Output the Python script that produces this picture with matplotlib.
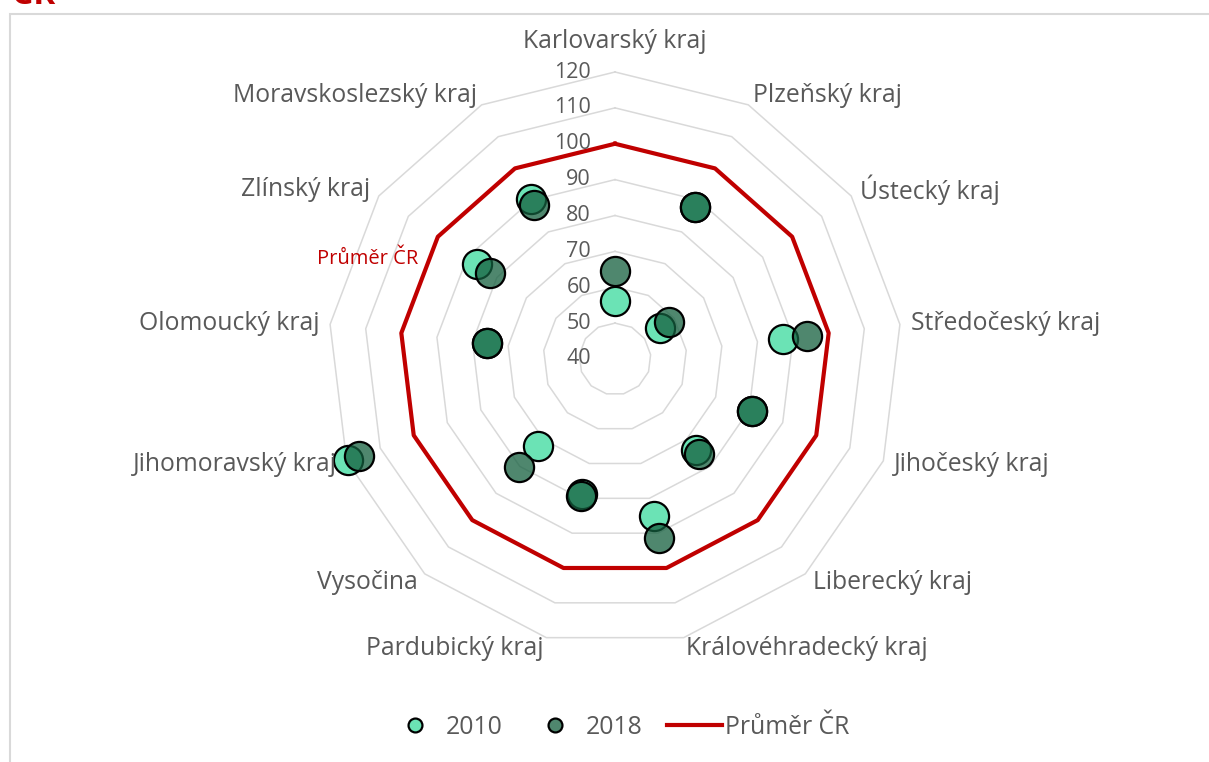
import numpy as np
import matplotlib
matplotlib.use("Agg")
import matplotlib.pyplot as plt
from matplotlib.lines import Line2D
from matplotlib.patches import Rectangle

plt.rcParams['font.family'] = ['Open Sans', 'DejaVu Sans']

categories = ["Karlovarský kraj", "Plzeňský kraj", "Ústecký kraj", "Středočeský kraj",
              "Jihočeský kraj", "Liberecký kraj", "Královéhradecký kraj", "Pardubický kraj",
              "Vysočina", "Jihomoravský kraj", "Olomoucký kraj", "Zlínský kraj",
              "Moravskoslezský kraj"]
values_2010 = [56.2, 88.0, 55.2, 87.3, 80.9, 74.0, 85.2, 78.8, 72.4, 119.5, 75.9, 86.7, 90.5]
values_2018 = [64.5, 88.0, 58.2, 93.8, 80.9, 75.5, 91.5, 79.4, 80.2, 116.4, 75.9, 82.2, 88.6]
average_cr = [100] * 13
ring_levels = [50, 60, 70, 80, 90, 100, 110, 120]
tick_labels = [40, 50, 60, 70, 80, 90, 100, 110, 120]

W, H = 1209, 762
fig = plt.figure(figsize=(W / 100, H / 100), dpi=100)

# chart frame
fig.patches.append(Rectangle((10 / W, -0.05), 1.1, (H - 14) / H + 0.05, transform=fig.transFigure,
                             fill=False, edgecolor='#D9D9D9', linewidth=1.5))
fig.text(12 / W, (H - 4) / H, "ČR", color='#C00000', fontsize=24, fontweight='bold',
         va='baseline', ha='left')

cx, cy, R = 615, 359, 287
ax = fig.add_axes([(cx - R) / W, (H - cy - R) / H, 2 * R / W, 2 * R / H], projection='polar')
ax.set_theta_zero_location('N')
ax.set_theta_direction(-1)
ax.set_ylim(40, 120)
ax.set_xticks([])
ax.set_yticks([])
ax.grid(False)
ax.spines['polar'].set_visible(False)
ax.set_facecolor('none')

n = len(categories)
theta = np.arange(n) * 2 * np.pi / n
theta_c = np.append(theta, theta[0])

for lv in ring_levels:
    ax.plot(theta_c, [lv] * (n + 1), color='#D9D9D9', lw=1.1, zorder=1, clip_on=False)

ax.plot(theta_c, average_cr + [average_cr[0]], color='#C00000', lw=3, zorder=2, clip_on=False)

c2010 = '#6BE3B5'
c2018 = (20 / 255, 95 / 255, 62 / 255, 0.75)
ax.plot(theta, values_2010, linestyle='none', marker='o', markersize=21, markerfacecolor=c2010,
        markeredgecolor='black', markeredgewidth=1.6, zorder=3, clip_on=False)
ax.plot(theta, values_2018, linestyle='none', marker='o', markersize=21, markerfacecolor=c2018,
        markeredgecolor='black', markeredgewidth=1.6, zorder=4, clip_on=False)

gray = '#595959'
fs = 17.8
for t in tick_labels:
    ax.annotate(str(t), xy=(0, t), xytext=(-24, 0), textcoords='offset pixels',
                ha='right', va='center', fontsize=15.5, color=gray)

for th, lab in zip(theta, categories):
    s, c = np.sin(th), np.cos(th)
    if abs(s) < 0.01:
        dx, dy, ha = 0, 30, 'center'
    else:
        dx, dy = 11 * s, 11 * c
        ha = 'left' if s > 0 else 'right'
    ax.annotate(lab, xy=(th, 120), xytext=(dx, dy), textcoords='offset pixels',
                ha=ha, va='center', fontsize=fs, color=gray)

ax.annotate("Průměr ČR", xy=(theta[11], 100), xytext=(-20, -22), textcoords='offset pixels',
            ha='right', va='center', fontsize=14.5, color='#C00000')

handles = [
    Line2D([], [], linestyle='none', marker='o', markersize=10, markerfacecolor=c2010,
           markeredgecolor='black', markeredgewidth=1.6),
    Line2D([], [], linestyle='none', marker='o', markersize=10, markerfacecolor=c2018,
           markeredgecolor='black', markeredgewidth=1.6),
    Line2D([], [], color='#C00000', lw=3),
]
leg = fig.legend(handles, ["2010", "2018", "Průměr ČR"], loc='center', ncol=3,
                 bbox_to_anchor=(619 / W, 1 - 727 / H), frameon=False, fontsize=fs,
                 handlelength=2.2, handletextpad=0.15, columnspacing=1.0)
for t in leg.get_texts():
    t.set_color(gray)

fig.savefig('out.png', dpi=100)
